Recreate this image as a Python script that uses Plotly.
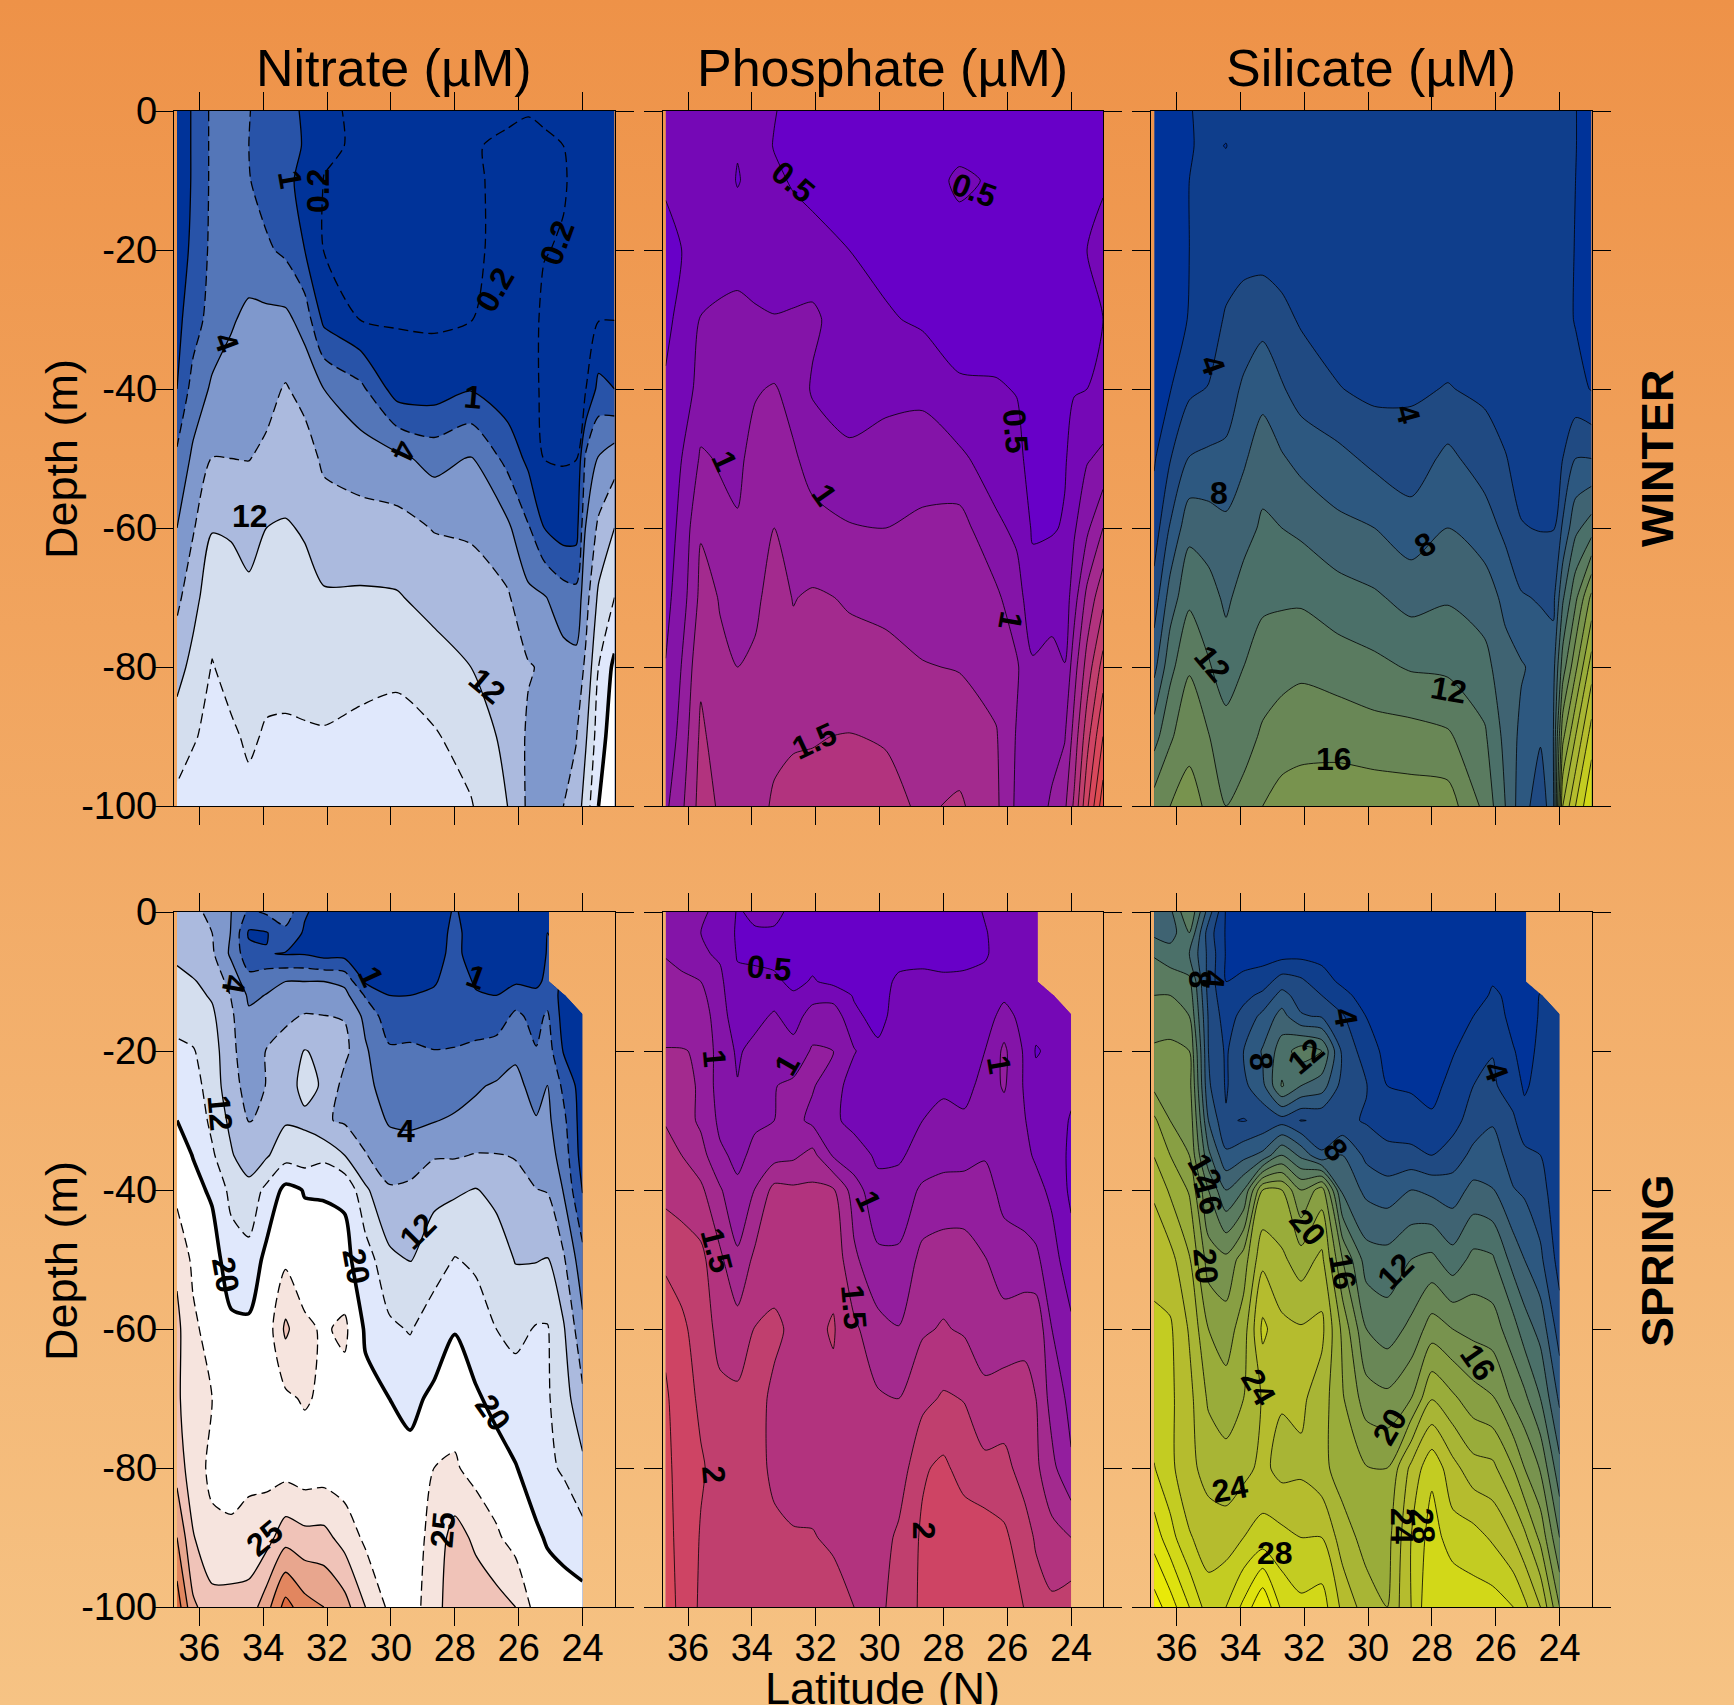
import numpy as np
import plotly.graph_objects as go

n = float("nan")

W_LAT = [36.7,36.2,35.6,35.0,34.45,33.9,33.3,32.7,32.1,30.95,29.8,28.65,27.5,26.35,25.7,25.2,24.6,24.2,23.9,23.5,23.0]
W_DEPTH = [0,-5,-10,-20,-30,-40,-50,-60,-70,-80,-90,-100]
S_LAT = [36.7,36.2,35.6,35.0,34.45,33.9,33.3,32.7,32.1,31.45,30.8,30.05,29.4,28.65,28.0,27.35,26.7,26.1,25.45,25.1,24.6,24.0]
S_DEPTH = [0,-3,-6,-10,-12,-15,-20,-25,-30,-35,-40,-50,-60,-70,-80,-90,-100]

# one profile per station, surface to bottom
winter_nitrate = [
[.5,.5,.5,.6,.8,1,2.4,4,7,10.5,14,17],
[1.1,1.1,1.1,1.2,1.5,2.8,4.8,7.6,10.6,13.2,15.7,17.5],
[2.4,2.4,2.4,2.5,2.9,4.6,8.1,11.8,14.5,16.2,16.9,17.5],
[3,3,3,3.2,3.8,5.6,8,11.7,13.2,14.7,16.6,17.5],
[2.1,2.0,2.1,3,4.9,6.4,7.9,10.8,12.7,14.2,15.4,17],
[1.5,1.5,1.6,2.3,5,6.9,8.7,12,13.2,14.9,16.4,17.5],
[1.3,1.3,1.2,1.8,5,8.3,10.2,12.3,13.3,15.2,16.4,17.5],
[.9,.95,.8,1.0,3.2,6.8,9.7,11.7,13.1,15,16.3,17.6],
[.25,.3,.18,.18,.8,4,7.3,10,12.4,14.4,16.3,17.5],
[.15,.12,.12,.12,.18,2.5,6.1,9.6,12.5,15,16.8,18],
[.12,.1,.1,.1,.14,.6,5,9.4,12.3,15.3,17.2,18.5],
[.1,.1,.1,.1,.1,.6,3.3,7.8,10.7,13.7,16.4,18],
[.15,.19,.15,.15,.19,.95,4.3,7.5,9.7,12,14.3,16.3],
[.18,.22,.28,.28,.3,.5,1.7,4.8,8.5,10,11,12],
[.19,.25,.3,.3,.3,.3,.8,2.2,5,8.3,7.4,7.3],
[.18,.22,.3,.21,.15,.15,.18,1,4.3,7.5,7,5.9],
[.18,.2,.22,.18,.12,.12,.15,.6,3,5.5,7.2,8],
[.15,.15,.15,.15,.15,.15,.18,.65,2.7,5.2,7.8,9.5],
[.15,.15,.15,.15,.15,.18,2.4,4.2,6.4,8.8,11.5,14],
[.15,.15,.15,.15,.17,1.3,4.3,8.8,12.8,16,18,20],
[.15,.15,.15,.15,.19,1,6.3,12,16,20.6,21.5,22],
]
winter_phosphate = [
[.58,.55,.52,.45,.46,.52,.58,.62,.68,.76,.82,.95],
[.65,.6,.58,.5,.55,.6,.75,.82,.88,1.01,1.09,1.2],
[.72,.7,.68,.65,.76,.85,1.03,1.23,1.32,1.45,1.55,1.6],
[.7,.68,.66,.68,.78,.84,.98,1.06,1.24,1.28,1.38,1.47],
[.68,.52,.48,.68,.8,.88,.95,1.02,1.12,1.25,1.34,1.42],
[.6,.6,.6,.58,.8,.98,1.08,1.15,1.2,1.29,1.35,1.42],
[.51,.49,.54,.52,.77,1.02,1.1,1.25,1.35,1.4,1.45,1.53],
[.44,.44,.48,.6,.78,.92,1.03,1.1,1.24,1.32,1.48,1.56],
[.42,.42,.42,.6,.8,.72,.92,1.07,1.28,1.34,1.49,1.55],
[.4,.4,.4,.5,.6,.68,.78,1.02,1.23,1.32,1.51,1.6],
[.4,.4,.4,.42,.53,.68,.85,1,1.19,1.32,1.48,1.58],
[.4,.4,.4,.41,.46,.7,.86,1.06,1.16,1.26,1.36,1.46],
[.4,.44,.54,.41,.4,.53,.8,1.1,1.17,1.24,1.36,1.54],
[.4,.42,.47,.41,.4,.52,.62,.8,1.05,1.15,1.27,1.3],
[.4,.4,.4,.4,.4,.49,.57,.7,.85,1.03,.98,.95],
[.4,.4,.4,.4,.4,.4,.4,.47,.6,.78,.85,.8],
[.42,.4,.4,.4,.4,.42,.45,.48,.66,.82,.88,1.05],
[.43,.42,.42,.42,.42,.44,.48,.52,.6,.76,.98,1.2],
[.44,.44,.44,.44,.46,.49,.58,.72,.9,1.15,1.35,1.55],
[.45,.47,.48,.5,.48,.5,.73,.95,1.32,1.6,1.9,2.2],
[.47,.48,.49,.53,.5,.56,.8,1.25,1.68,2.1,2.5,2.9],
]
winter_silicate = [
[1,1,1,1.1,1.2,1.4,1.8,2.9,4.9,7.4,11.2,15],
[1,1,1,1,1.2,1.9,3.9,6.2,8.9,11.4,13.7,16],
[1.9,1.9,2,2,2.1,3.6,6.1,9.4,11.6,13.8,15.4,16.8],
[2.5,2.3,2.4,2.4,2.7,4.1,6.4,9,10.8,12.2,14.1,15.6],
[2.6,1.95,2.6,2.8,4.3,5.1,6.4,8.5,9.6,11,12.8,14],
[2.9,2.9,2.9,3.3,4.9,6.3,7.7,9.3,10.8,12,13.2,14.7],
[2.9,2.9,2.9,3.2,5.4,7.3,9.2,10.3,11.6,13,14.3,16],
[2.9,2.9,2.9,3.2,4.5,6.2,8.2,10,11.7,13.3,15,16.8],
[2.9,2.9,2.9,3,3.8,5.1,7.4,9.6,11.7,13.6,15.3,17],
[2.9,2.9,2.9,2.9,3.1,4.1,6.6,8.5,10.9,13,15.4,17],
[2.9,2.9,2.9,3,3.2,3.5,5.5,8,10.3,12.5,14.9,17.2],
[2.9,2.9,2.9,2.9,3,3.7,4.9,6.9,9.3,11.8,14.8,17],
[2.9,2.9,2.9,2.9,3,4.1,6.5,8,9.8,11.6,14.3,17],
[2.9,2.9,2.9,3,3.1,3.6,5,7,9,10.7,12.3,13.5],
[2.9,2.9,2.9,2.9,3,3.1,4.1,5.5,7.5,8.7,9.4,10],
[2.9,2.9,2.9,2.9,3,3.1,3.3,4.1,6.2,8.2,7.5,6.9],
[2.9,2.9,2.9,2.9,3,3.2,3.4,3.9,5.8,7.3,6.2,4.9],
[2.4,2.5,2.5,2.5,2.6,2.7,3,3.9,5.4,7.2,7.8,7.2],
[2.4,2.4,2.4,2.4,2.5,2.8,4,6.3,9.7,13,17.5,22],
[2.05,2.05,2,1.95,1.9,2.6,6,9.5,13.5,17.5,22,26],
[1.2,1.2,1.2,1.2,1.4,1.9,6,11,18.5,23,27,30],
]
spring_nitrate = [
[9,10,11.4,12.8,13.7,15,16.6,18,20,20.9,21.8,24.5,25.6,25.4,26.5,30,34],
[8.5,8.8,10,12.3,13,13.8,16.3,17.6,19,19.9,20.6,22,23,23.5,23.5,25.2,28],
[7.5,8,8.6,10.8,11.6,12.7,13.8,14.2,15,16.6,19.5,21,21.5,22.5,22,23,26],
[4,3.9,3.6,6.5,7.8,8.6,9,9.5,11,12.4,14.8,18,20.5,21,21.5,23,26],
[1.8,.9,1.3,2.8,3.7,4.6,5.5,6.5,7.9,9.5,13.5,17.2,20.5,21,21.8,23.5,26],
[2.3,.95,1.05,3.6,4.1,4.7,8.2,8.1,8.4,11.5,17,20.7,21,21.3,21.7,24,29],
[3.2,1.7,.95,4,5.5,7.3,9.5,10.5,11.6,14.5,20.7,22,25.5,22,21.5,26.5,33.5],
[1.1,.9,.95,4,6,8.3,12.2,13,11.3,13.8,19.8,21,23,22.8,21,25.8,31],
[.7,.7,.7,4,5.8,8.1,11,11.6,8.4,15,19.7,21,22.2,22,21.2,25.8,30],
[.7,.7,.7,3.5,5.2,7.8,9,6.6,7.5,12,19.5,20.6,23,21.5,21,24,28.5],
[.6,.7,.6,.9,1.9,3.5,4.5,5.3,6.2,8.2,12.7,18,19.5,20.6,21,22,25],
[.5,.5,.55,.7,1,1.4,2.3,2.9,3.8,5.9,8.4,12.9,16.8,20,20.7,21.3,22],
[.5,.5,.55,.6,1,1.7,2.2,2.7,3.5,6.5,8.6,11.8,15.7,19.2,20.6,21,21.3],
[.6,.7,.8,.95,1.1,1.4,2.05,2.8,3.9,7.6,11,14.2,18.2,20.4,22.5,23.5,24],
[1.1,1.2,1.2,1.3,1.4,1.6,2.1,3,4.6,7.6,11.4,16.2,19.8,21.5,22.8,26,26.5],
[.6,.7,.7,.95,1.05,1.2,2.7,3.8,5,8.2,12.2,15.3,18.2,20.3,21.6,24.5,26.5],
[.5,.5,.5,.7,1,1.5,2.8,4.4,6,8.1,11,14,16,19,20.9,22.9,26],
[.5,.5,.5,.9,1.5,2.4,3.7,4.9,6,7.9,8.6,11.8,14.9,18,20.1,21.5,25],
[.7,.7,.7,.85,1.2,1.7,2.1,3.4,4.2,5.8,8.1,11.8,16.3,17.8,18.5,20.3,21.5],
[.9,1,1.05,1.2,1.6,2.3,3,4.1,4.9,6,7.8,12.2,16.3,16.4,16.8,19.7,21],
[n,n,n,n,.75,.7,.95,1.8,2.5,3.1,3.9,8.6,12.5,14,15.5,19,20.9],
[n,n,n,n,n,.6,.6,.6,.6,.65,.95,2.7,5,8.8,13,17.3,21],
]
spring_phosphate = [
[.88,.94,.99,1.05,1.1,1.16,1.26,1.38,1.48,1.6,1.68,1.94,2.2,2.28,2.3,2.3,2.3],
[.85,.9,.95,1.03,1.08,1.14,1.26,1.3,1.38,1.5,1.65,1.87,2.06,2.13,2.17,2.2,2.22],
[.78,.75,.78,1,1.07,1.15,1.23,1.23,1.2,1.35,1.55,1.82,1.87,1.95,2.03,1.98,1.95],
[.7,.7,.72,.8,.82,.85,.88,.88,.95,1.04,1.28,1.55,1.68,1.8,1.9,1.88,1.85],
[.48,.46,.48,.55,.58,.62,.72,.76,.83,.95,1.04,1.3,1.6,1.8,1.83,1.83,1.83],
[.54,.48,.44,.58,.62,.68,.82,.86,.97,1.05,1.26,1.56,1.76,1.8,1.8,1.85,1.85],
[.58,.46,.42,.55,.66,.78,.88,.99,1,1.15,1.58,1.68,1.78,1.72,1.72,1.78,1.84],
[.42,.42,.42,.44,.53,.65,.84,1.05,1.08,1.2,1.55,1.62,1.72,1.74,1.65,1.77,1.83],
[.42,.42,.42,.52,.67,.85,1.03,1.02,.94,1.33,1.55,1.65,1.7,1.7,1.68,1.76,1.82],
[.42,.42,.42,.44,.65,.9,1.01,.87,.78,.97,1.53,1.68,1.77,1.7,1.66,1.72,1.83],
[.4,.4,.42,.43,.48,.55,.77,.62,.7,.83,1.13,1.3,1.55,1.65,1.66,1.68,1.75],
[.4,.4,.4,.41,.41,.42,.55,.58,.62,.72,.8,1.06,1.33,1.53,1.62,1.62,1.7],
[.42,.42,.42,.54,.57,.6,.6,.58,.62,.72,.83,1.05,1.26,1.5,1.6,1.8,1.83],
[.42,.42,.44,.55,.57,.6,.6,.62,.75,.83,1.05,1.33,1.47,1.68,1.97,2.04,2.05],
[.42,.42,.44,.53,.54,.56,.58,.72,.8,.92,1.08,1.38,1.52,1.78,2.05,2.1,2.13],
[.44,.44,.47,.52,.53,.55,.58,.65,.8,.9,1.12,1.35,1.47,1.74,1.9,2.15,2.15],
[.51,.49,.48,.55,.58,.62,.75,.85,.95,.98,1.1,1.26,1.4,1.55,1.82,2.13,2.18],
[.52,.56,.58,.6,.7,.85,1.05,1.03,.88,.85,.92,1.12,1.35,1.62,1.82,2.05,2.15],
[.6,.6,.6,.62,.63,.65,.71,.72,.76,.8,.88,1.08,1.44,1.57,1.65,1.85,1.99],
[.62,.63,.63,.65,.63,.6,.48,.58,.65,.72,.82,1.05,1.45,1.5,1.55,1.72,1.85],
[n,n,n,n,.66,.65,.55,.58,.62,.64,.7,.85,1,1.15,1.32,1.58,1.8],
[n,n,n,n,n,.62,.6,.55,.48,.45,.45,.6,.8,.93,1.03,1.5,1.9],
]
spring_silicate = [
[8,9.5,11.8,13.2,14,15,16.3,17.5,20.4,21.9,23.6,25.7,26.2,26.8,28.1,31.1,35],
[9.5,9,11,13,14,15,16.5,17,18,20,21.7,24.7,26.3,26.4,26.5,28.8,33],
[14,12,10,12.5,13.2,14,16,16.8,17.5,18,19.8,22.2,23.8,24.6,24.5,26.2,30],
[7,5,5.5,5.2,5.4,5.8,6,6.3,8,10.5,14,17,20,21.7,23.3,25,27],
[1.8,1.8,1.85,2,2.4,3,3.7,3.8,4.2,6.4,10,16.5,19,20.9,22.8,25,28],
[1.5,1.5,1.5,2.3,3.4,4.7,6,5.5,3.9,7.4,12,19,21,22,23.4,26,30.5],
[1.2,1.2,1.2,3,4.5,6.5,8.2,7.5,4.5,8.5,20,23.5,26.5,24.2,24.5,26.8,34],
[1,1,1.2,5,6.7,8.8,11,12.2,5.2,12,20,22.4,24.5,24.2,23.3,26.6,29.5],
[1,1,1.4,4.4,5.1,6.2,13,10,3.9,9.5,16,21,24.2,24.4,23.6,26,28.5],
[.8,.8,1.4,2.8,4,5.8,12,9,4.3,6.3,19,22.5,24.5,23,22.6,26,29],
[.6,.6,.8,1.6,2.6,4.2,5.5,5.2,4.5,8,9.5,16,19.5,20.2,21,23,25.5],
[.5,.5,.5,.7,1.1,1.95,3,4.1,3.8,5.5,7.5,11,14,17,20.1,21.2,23],
[.5,.5,.5,.6,.75,1,1.4,2,3.3,4.5,7,10.8,13,16.5,20,21.2,22],
[.5,.5,.5,.6,.7,.9,1.2,1.8,2.7,4.6,8,12,14.5,18,24.5,26,26],
[.4,.4,.4,.5,.6,.8,1.2,1.6,2.2,4,7.5,12.5,17,21.9,27.5,29,30],
[.4,.4,.5,.7,.8,.95,1.9,2.4,3.2,5,7,10.8,16,20.4,24.7,26.9,30],
[.4,.4,.5,.8,1.3,2,2.6,4,5,6.5,8.6,12.6,15.4,18.9,22.8,26.8,29],
[1.2,1.3,1.6,1.9,2.2,2.8,3.9,4.4,5.8,6.9,8.1,12.3,15,18.2,22.5,25.7,29],
[1.3,1.9,1.95,1.8,1.7,1.5,2.1,2.7,4.4,5.1,6.1,9.2,12.8,15.6,20,24,28],
[1.2,1.3,1.9,1.5,1.5,1.5,1.5,1.8,2.5,4.6,5.7,8,11,14.5,18,22.5,26.5],
[n,n,n,n,2.05,2.1,2.3,2.5,2.7,4,4.8,6.4,9.3,12,15.8,19.5,24],
[n,n,n,n,n,2.4,2.8,2.9,2.6,2.5,2.5,3.2,5,7.6,10.6,14,18],
]

NITRATE_LEVELS = [.2,1,2,4,8,12,16,20,22.5,25,27.5,30,32.5]
NITRATE_COLORS = ["#003399","#003399","#2853A8","#5476B8","#7F98CC","#ABBADE","#D4DEEE","#E0E8FC",
                  "#FFFFFF","#F6E4DE","#F0C3B8","#E8A68E","#E2865F","#DC6A40"]
NITRATE_DASHED = [.2,2,8,16,22.5]
PHOSPHATE_LEVELS = [.5,.75,1,1.25,1.5,1.75,2,2.25,2.5,2.75]
PHOSPHATE_COLORS = ["#6800C8","#7508B6","#8414A8","#931E9E","#A32A8E","#B2337E","#C03F6E","#CE4464",
                    "#D8485C","#DE4C50","#E25048"]
SILICATE_LEVELS = [2,4,6,8,10,12,14,16,18,20,22,24,26,28,30,32,34]
SILICATE_COLORS = ["#003399","#0F3E8C","#204A82","#2D5880","#3F6372","#4B7069","#5A7B60","#698756","#78934E",
                   "#889F43","#99AC3A","#A8B535","#B5BC2E","#C3CC22","#D2D818","#DEE20F","#E9E908","#F4F000"]

NITRATE_W_LABELS = [("1",33.15,-9.9,80),("0.2",32.28,-11.5,-90),("0.2",26.75,-25.8,-60),("0.2",24.8,-19,-70),
    ("4",35.17,-33.3,70),("1",27.44,-41.2,5),("4",29.6,-48.9,115),("12",34.4,-58.3,0),("12",27,-82.8,40)]
NITRATE_S_LABELS = [("4",34.92,-10.4,100),("1",30.64,-9.2,65),("1",27.34,-9.4,20),("12",35.34,-29,85),
    ("4",29.53,-31.5,0),("12",29.15,-45.9,-45),("20",35.17,-52.2,80),("20",31.1,-51,80),("20",26.8,-72.1,55),
    ("25",33.95,-90.1,-40),("25",28.38,-88.9,-85)]
PHOSPHATE_W_LABELS = [("0.5",32.7,-10.2,40),("0.5",27.05,-11.3,20),("0.5",25.73,-46,85),("1",34.85,-50.3,65),
    ("1",31.73,-55.3,55),("1",25.9,-73.4,100),("1.5",32.05,-90.6,-25)]
PHOSPHATE_S_LABELS = [("0.5",33.47,-8,5),("1",35.17,-21,85),("1",32.91,-22,-60),("1",26.25,-22,80),("1",30.35,-41.6,65),
    ("1.5",35.1,-48.6,75),("1.5",30.8,-56.8,85),("2",35.2,-80.9,85),("2",28.58,-89,90)]
SILICATE_W_LABELS = [("4",34.86,-36.5,70),("4",28.75,-43.6,75),("8",34.68,-55,0),("8",28.23,-62.4,-30),
    ("12",34.86,-79.5,50),("12",27.47,-83.3,10),("16",31.07,-93.2,0)]
SILICATE_S_LABELS = [("8",35.27,-9.7,90),("4",34.86,-9.7,95),("4",30.7,-15.1,80),("8",33.36,-21.5,85),("12",31.94,-20.7,-40),
    ("4",26,-22.9,70),("8",31,-34.2,50),("12",35.1,-37.4,60),("16",35,-41,75),("20",31.87,-45.4,50),("16",30.8,-51.7,80),
    ("12",29.13,-51.7,-45),("20",35.1,-51,85),("16",26.57,-64.8,55),("24",33.43,-68.3,60),("20",29.3,-74,-60),
    ("24",34.33,-83,-10),("24",28.96,-88.4,90),("28",28.3,-88.4,85),("28",32.91,-92.2,0)]

TITLES = ["Nitrate (µM)", "Phosphate (µM)", "Silicate (µM)"]
LAT_TICKS = [36,34,32,30,28,26,24]
DEPTH_TICKS = [0,-20,-40,-60,-80,-100]
DEPTH_TICK_TEXT = ["0","-20","-40","-60","-80","-100"]

W, H = 1734, 1705
COL_PX = [(173.8,614.5),(662.5,1103),(1151,1591.5)]
ROW_PX = [(111,806),(912,1607)]
FONT = "Liberation Sans, Arial, sans-serif"

panels = [
 (0,0,W_LAT,W_DEPTH,winter_nitrate,NITRATE_LEVELS,NITRATE_COLORS,NITRATE_DASHED,NITRATE_W_LABELS),
 (0,1,W_LAT,W_DEPTH,winter_phosphate,PHOSPHATE_LEVELS,PHOSPHATE_COLORS,[],PHOSPHATE_W_LABELS),
 (0,2,W_LAT,W_DEPTH,winter_silicate,SILICATE_LEVELS,SILICATE_COLORS,[],SILICATE_W_LABELS),
 (1,0,S_LAT,S_DEPTH,spring_nitrate,NITRATE_LEVELS,NITRATE_COLORS,NITRATE_DASHED,NITRATE_S_LABELS),
 (1,1,S_LAT,S_DEPTH,spring_phosphate,PHOSPHATE_LEVELS,PHOSPHATE_COLORS,[],PHOSPHATE_S_LABELS),
 (1,2,S_LAT,S_DEPTH,spring_silicate,SILICATE_LEVELS,SILICATE_COLORS,[],SILICATE_S_LABELS),
]

fig = go.Figure()
layout = dict(width=W, height=H, margin=dict(l=0,r=0,t=0,b=0,autoexpand=False), autosize=False,
              paper_bgcolor="rgba(0,0,0,0)", plot_bgcolor="rgba(0,0,0,0)", showlegend=False,
              font=dict(family=FONT, color="black"))
annotations = []

def to_index(z, levels):
    # contour levels are unevenly spaced, so values are placed on a level-number scale
    low = levels[0] - (levels[1] - levels[0])
    high = levels[-1] + (levels[-1] - levels[-2])
    xp = [low] + list(levels) + [high]
    fp = [float(i) for i in range(len(levels) + 2)]
    arr = np.array(z, float).T
    return np.interp(arr, xp, fp)

for idx, (r, c, lat, depth, cols, levels, colors, dashed, labels) in enumerate(panels):
    ax = "" if idx == 0 else str(idx + 1)
    xref, yref = "x" + ax, "y" + ax
    zi = to_index(cols, levels)
    zi[np.isnan(np.array(cols, float).T)] = np.nan
    nc = len(levels)
    cs = [[j / nc, colors[j]] for j in range(nc + 1)]
    fig.add_trace(go.Contour(x=lat, y=depth, z=zi, xaxis=xref, yaxis=yref, colorscale=cs, zmin=0, zmax=nc + 1,
        autocontour=False, contours=dict(start=1, end=nc, size=1, coloring="fill", showlines=False),
        line=dict(width=0, smoothing=0.7), showscale=False, hoverinfo="skip", connectgaps=False))
    for i, lev in enumerate(levels):
        is_dash = lev in dashed
        width = 3.6 if (lev == 20 and dashed) else (1.3 if dashed else 0.8)
        fig.add_trace(go.Contour(x=lat, y=depth, z=zi, xaxis=xref, yaxis=yref, autocontour=False,
            contours=dict(start=i + 1, end=i + 1, size=1, coloring="none"),
            line=dict(color="black", width=width, dash="10px,5px" if is_dash else "solid", smoothing=0.7),
            showscale=False, hoverinfo="skip", connectgaps=False))
    x0, x1 = COL_PX[c]
    y0, y1 = ROW_PX[r]
    layout["xaxis" + ax] = dict(domain=[x0 / W, x1 / W], range=[36.8, 23.0], anchor=yref,
        tickmode="array", tickvals=LAT_TICKS, showticklabels=(r == 1), ticks="outside", ticklen=18, tickwidth=1,
        tickcolor="black", showline=True, linecolor="black", linewidth=1, mirror="ticks", showgrid=False,
        zeroline=False, tickfont=dict(size=38, family=FONT), ticklabelstandoff=-11)
    layout["yaxis" + ax] = dict(domain=[1 - y1 / H, 1 - y0 / H], range=[-100, 0], anchor=xref,
        tickmode="array", tickvals=DEPTH_TICKS, ticktext=DEPTH_TICK_TEXT, showticklabels=(c == 0), ticks="outside",
        ticklen=18, tickwidth=1, tickcolor="black", showline=True, linecolor="black", linewidth=1, mirror="ticks",
        showgrid=False, zeroline=False, tickfont=dict(size=38, family=FONT), ticklabelstandoff=-10)
    for text, la, de, ang in labels:
        annotations.append(dict(text="<b>%s</b>" % text, x=la, y=de, xref=xref, yref=yref, showarrow=False, textangle=ang,
            font=dict(size=32, family=FONT, color="black")))

def page_text(text, px, py, size, angle=0, bold=False):
    annotations.append(dict(text="<b>%s</b>" % text if bold else text, x=px / W, y=1 - py / H, xref="paper", yref="paper",
        showarrow=False, textangle=angle, xanchor="center", yanchor="middle",
        font=dict(size=size, family=FONT, color="black")))

for (x0, x1), t in zip(COL_PX, TITLES):
    page_text(t, (x0 + x1) / 2, 68, 52)
page_text("Depth (m)", 61, 459, 45, -90)
page_text("Depth (m)", 61, 1261, 45, -90)
page_text("WINTER", 1657, 459, 45, -90, True)
page_text("SPRING", 1657, 1261, 45, -90, True)
page_text("Latitude (N)", 882, 1688, 45)

layout["annotations"] = annotations
fig.update_layout(**layout)

page_css = ("var d=document.documentElement;d.style.height='100%';d.style.overflow='hidden';"
            "document.body.style.margin='0';document.body.style.height='100%';"
            "d.style.background='linear-gradient(180deg,#EE9248 0%,#F6C384 100%)';"
            "document.body.style.background='transparent';")
fig.write_html("out.html", post_script=page_css, config={"displayModeBar": False})
